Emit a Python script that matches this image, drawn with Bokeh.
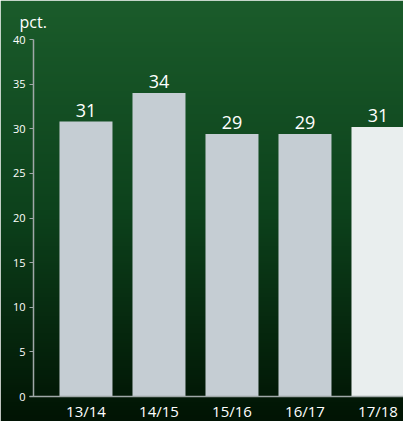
import numpy as np
from bokeh.plotting import figure
from bokeh.models import ColumnDataSource, FixedTicker, Label
from bokeh.core.properties import value
from bokeh.embed import file_html
from bokeh.resources import INLINE

categories = ["13/14", "14/15", "15/16", "16/17", "17/18"]
values = [30.8, 34.0, 29.4, 29.4, 30.2]
value_labels = ["31", "34", "29", "29", "31"]
bar_colors = ["#c5cdd3", "#c5cdd3", "#c5cdd3", "#c5cdd3", "#e9eeee"]
y_ticks = [0, 5, 10, 15, 20, 25, 30, 35, 40]

W, H = 403, 421
x0 = -1.171
x1 = x0 + W / 73.0
y0 = -2.80
y1 = 44.37

p = figure(width=W, height=H, output_backend="svg", toolbar_location=None,
           x_range=(x0, x1), y_range=(y0, y1), min_border=0)
p.outline_line_color = None
p.grid.visible = False
p.border_fill_color = "#0e4a1f"

# background gradient
ny = 200
t = np.linspace(0, 1, ny)[:, None]  # 0 bottom -> 1 top
top = np.array([27, 92, 43]); mid = np.array([13, 66, 28]); bot = np.array([1, 20, 4])
cols = np.where(t > 0.5, mid + (top - mid) * (t - 0.5) / 0.5, bot + (mid - bot) * (t / 0.5))
rgba = np.empty((ny, 1), dtype=np.uint32)
view = rgba.view(dtype=np.uint8).reshape((ny, 1, 4))
view[:, 0, 0] = cols[:, 0]
view[:, 0, 1] = cols[:, 1]
view[:, 0, 2] = cols[:, 2]
view[:, 0, 3] = 255
p.image_rgba(image=[rgba], x=x0, y=y0, dw=x1 - x0, dh=y1 - y0, level="image")

xs = list(range(len(categories)))
src = ColumnDataSource(dict(x=xs, top=values, lab=value_labels, color=bar_colors))
p.vbar(x="x", top="top", bottom=0, width=0.726, color="color", line_color=None, source=src)
p.text(x="x", y="top", text="lab", source=src, text_align="center", text_baseline="bottom",
       y_offset=-5, text_color="white", text_font=value("Open Sans"), text_font_size="18px")

xa = p.xaxis[0]
xa.fixed_location = 0
xa.bounds = (-0.77, x1)
xa.ticker = FixedTicker(ticks=xs)
xa.major_label_overrides = {i: c for i, c in zip(xs, categories)}
xa.major_tick_line_color = None
xa.minor_tick_line_color = None
xa.axis_line_color = "#a0a8a8"
xa.axis_line_width = 1.5
xa.major_label_text_color = "white"
xa.major_label_text_font = "Open Sans"
xa.major_label_text_font_size = "15px"
xa.major_label_standoff = -2

ya = p.yaxis[0]
ya.fixed_location = (33 - 85.5) / 73.0
ya.bounds = (0, 40)
ya.ticker = FixedTicker(ticks=y_ticks)
ya.minor_tick_line_color = None
ya.major_tick_in = 0
ya.major_tick_out = 4
ya.major_tick_line_color = "#a0a8a8"
ya.axis_line_color = "#a0a8a8"
ya.axis_line_width = 1.5
ya.major_label_text_color = "white"
ya.major_label_text_font = "Open Sans"
ya.major_label_text_font_size = "11px"
ya.major_label_standoff = 4

p.add_layout(Label(x=19, y=H - 32, x_units="screen", y_units="screen", text="pct.",
                   text_color="white", text_font="Open Sans", text_font_size="16px"))

open("out.html", "w").write(file_html(p, INLINE))
